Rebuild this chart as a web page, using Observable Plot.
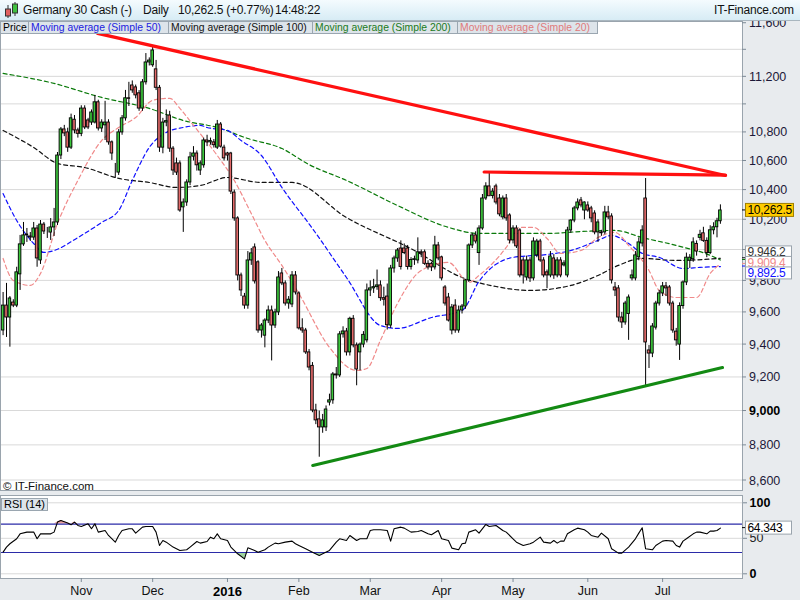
<!DOCTYPE html>
<html>
<head>
<meta charset="utf-8">
<script src="https://cdn.jsdelivr.net/npm/d3@7"></script>
<script src="https://cdn.jsdelivr.net/npm/@observablehq/plot@0.6"></script>
<style>
  html, body { margin:0; padding:0; }
  body { width:800px; height:600px; overflow:hidden; position:relative; background:#e8ebee; font-family:"Liberation Sans", Arial, sans-serif; color:#000; }
  #titlebar { position:absolute; left:0; top:0; width:800px; height:21px; background:linear-gradient(#f4fbfe,#d7ecf5); border-bottom:1px solid #a9b6bf; box-sizing:border-box; z-index:3; }
  #titlebar span { position:absolute; top:3px; font-size:12px; letter-spacing:-0.2px; line-height:14px; white-space:nowrap; color:#111; }
  #legend div { position:absolute; top:21px; height:13px; box-sizing:border-box; border:1px solid #9aa6b0; background:#dde4ea; font-size:10.4px; line-height:11px; padding-left:2px; white-space:nowrap; overflow:hidden; z-index:3; }
  #main { position:absolute; left:0; top:20px; z-index:1; }
  #rsi { position:absolute; left:0; top:493px; z-index:1; }
  #copy { position:absolute; left:3px; top:480px; font-size:11.5px; z-index:2; color:#111; }
  #rsilabel { position:absolute; left:1px; top:498px; height:13px; padding:0 2px; box-sizing:border-box; border:1px solid #9aa6b0; background:#dde4ea; font-size:11px; line-height:11px; z-index:2; }
</style>
</head>
<body>
<div id="titlebar">
  <svg width="18" height="18" style="position:absolute;left:3px;top:1px">
    <line x1="5" y1="4" x2="5" y2="17" stroke="#333"/><rect x="2.5" y="8" width="5" height="7" fill="#e06060" stroke="#333"/>
    <line x1="12" y1="1" x2="12" y2="15" stroke="#333"/><rect x="9.5" y="3" width="5" height="9" fill="#40c040" stroke="#333"/>
  </svg>
  <span style="left:23px">Germany 30 Cash (-)</span>
  <span style="left:143px">Daily</span>
  <span style="left:178px">10,262.5 (+0.77%)</span>
  <span style="left:275px">14:48:22</span>
  <span style="left:714px">IT-Finance.com</span>
</div>
<div id="legend">
  <div style="left:0px;width:29px;color:#000">Price</div>
  <div style="left:28px;width:141px;color:#2020e0">Moving average (Simple 50)</div>
  <div style="left:168px;width:145px;color:#111">Moving average (Simple 100)</div>
  <div style="left:312px;width:146px;color:#1a7a1a">Moving average (Simple 200)</div>
  <div style="left:457px;width:141px;color:#e07a7a">Moving average (Simple 20)</div>
</div>
<div id="main"></div>
<div id="copy">© IT-Finance.com</div>
<div id="rsilabel">RSI (14)</div>
<div id="rsi"></div>
<script>
// ---- Daily candles (Sep 30 2015 .. Jul 26 2016), index = trading day ----
const opens = [9487,9643,9568,9662,9643,9842,10037,10096,10089,10082,10142,9932,10168,10115,10115,10149,10182,10638,10821,10800,
10693,10890,10814,10790,10970,10885,10870,10870,11015,10828,10850,10870,10730,10520,10520,10800,10900,11044,11137,11123,
11080,10970,11160,11306,11285,11255,11120,10693,10870,10920,10686,10583,10583,10283,10316,10452,10630,10652,10534,10570,
10743,10730,10730,10693,10856,10693,10652,10652,10383,10209,9835,9700,9643,9932,10017,9920,9487,9455,9549,9612,
9518,9600,9848,9784,9656,9650,9835,9720,9500,9487,9352,9270,9003,8951,8904,8904,9050,9063,9218,9212,
9463,9481,9352,9560,9395,9352,9400,9426,9739,9752,9760,9771,9690,9700,9518,9880,9945,10010,10010,10010,
9890,9935,9932,9985,9985,9910,9910,9887,10030,9952,9758,9694,9487,9643,9487,9612,9637,9803,10030,10096,
9980,10142,10343,10425,10360,10425,10343,10216,10343,10229,10063,10142,10129,9932,9822,9932,9816,9965,10056,9932,
9855,9835,9945,9835,9932,9900,9835,10129,10195,10276,10330,10262,10296,10276,10242,10116,10116,10116,10249,10222,
9758,9752,9568,9537,9590,9816,9816,9952,10043,10343,9364,9345,9505,9656,9720,9765,9758,9656,9480,9400,
9640,9790,9930,9940,10040,10080,10110,10060,9980,10130,10150,10190];
const highs = [9726,9784,9700,9680,9888,10096,10182,10142,10115,10182,10162,10195,10182,10149,10208,10276,10659,10835,10850,10830,
10930,10920,10830,10990,10990,10900,10960,11065,11030,10890,11022,10890,10740,10583,10820,10920,11101,11160,11170,11140,
11100,11180,11372,11340,11430,11321,11137,10900,10960,10950,10700,10620,10600,10340,10470,10660,10700,10670,10600,10760,
10780,10760,10750,10885,10870,10710,10660,10660,10400,10220,9850,9720,9990,10010,10040,9930,9530,9560,9640,9640,
9620,9860,9880,9800,9700,9860,9860,9730,9560,9500,9370,9290,9040,9000,8980,9030,9100,9230,9260,9480,
9510,9500,9570,9580,9410,9410,9480,9780,9800,9810,9870,9800,9760,9780,9900,9960,10010,10060,10040,10030,
9950,9960,10080,10000,10000,9930,9920,10090,10050,9960,9770,9720,9650,9680,9640,9650,9810,10040,10110,10120,
10160,10370,10450,10520,10410,10440,10370,10360,10370,10240,10160,10160,10140,9950,9960,9950,10080,10070,10070,9950,
9870,9990,9970,9950,9950,9930,10150,10200,10290,10340,10350,10320,10320,10290,10260,10200,10130,10290,10290,10240,
9790,9770,9600,9670,9710,9870,9990,10080,10160,10479,9394,9530,9670,9740,9790,9790,9770,9670,9500,9660,
9800,9980,9970,10080,10060,10130,10150,10080,10160,10180,10210,10300];
const lows = [9455,9444,9384,9630,9630,9739,10024,10050,10056,10063,9888,9906,10102,10076,10063,10089,10162,10610,10770,10660,
10680,10790,10760,10770,10820,10820,10850,10860,10810,10800,10743,10710,10604,10480,10500,10780,10880,10985,11080,11040,
10950,10950,11140,11280,11270,11100,10660,10650,10840,10660,10500,10500,10250,10116,10290,10430,10600,10530,10500,10550,
10700,10710,10690,10680,10690,10600,10600,10370,10190,9800,9700,9620,9620,9900,9780,9470,9440,9380,9530,9300,
9500,9580,9770,9640,9620,9630,9710,9490,9470,9340,9240,8990,8920,8732,8870,8880,9030,9040,9190,9200,
9440,9330,9330,9380,9150,9240,9380,9410,9700,9720,9740,9670,9640,9490,9500,9850,9920,9870,9970,9870,
9870,9900,9910,9950,9900,9870,9860,9870,9930,9800,9640,9540,9460,9470,9470,9590,9620,9790,10010,10040,
9900,10130,10330,10380,10340,10300,10220,10200,10190,10040,10040,10010,9820,9780,9800,9790,9800,9950,9920,9820,
9750,9820,9810,9820,9820,9890,9820,10110,10180,10260,10280,10200,10250,10180,10100,10050,10090,10100,10200,9780,
9700,9540,9500,9520,9426,9800,9800,9930,10020,9151,9254,9320,9490,9640,9700,9700,9640,9470,9390,9303,
9620,9770,9880,9920,9960,10060,10050,9950,9970,10100,10080,10170];
const closes = [9643,9568,9688,9643,9855,10037,10096,10102,10082,10142,9945,10168,10122,10115,10149,10182,10638,10821,10793,10693,
10900,10814,10790,10970,10835,10835,10942,11015,10828,10870,10870,10730,10652,10520,10800,10900,11044,11040,11101,11065,
10970,11160,11306,11320,11395,11120,10693,10870,10880,10686,10534,10520,10262,10316,10452,10625,10652,10570,10583,10743,
10730,10740,10710,10856,10700,10618,10638,10390,10209,9835,9739,9643,9932,9978,9797,9487,9518,9549,9612,9518,
9600,9822,9784,9656,9680,9835,9726,9500,9487,9352,9260,9003,8945,8904,8945,9009,9063,9218,9212,9463,
9481,9352,9560,9395,9248,9400,9460,9739,9752,9760,9771,9690,9680,9520,9880,9945,9997,9890,9980,9890,
9935,9940,9985,9978,9910,9887,9887,10030,9945,9816,9656,9549,9631,9487,9612,9637,9803,10030,10096,10056,
10142,10343,10425,10358,10390,10316,10236,10343,10209,10063,10142,10024,9835,9835,9932,9816,10056,10056,9932,9835,
9835,9958,9835,9932,9835,9913,10129,10195,10276,10316,10296,10316,10262,10209,10116,10182,10110,10249,10216,9803,
9739,9568,9537,9656,9694,9835,9965,10050,10129,9413,9345,9512,9656,9720,9765,9752,9656,9487,9426,9640,
9790,9950,9950,10050,9990,10100,10060,9980,10130,10150,10190,10262.5];

// ---- Moving averages, sampled from the chart (index, value) ----
const ma20Idx = [0,3,8,11,16,22,29,34,39,44,49,52,56,63,68,73,77,82,87,96,104,107,111,116,123,131,137,140,148,152,156,160,164,170,175,180,184,190,193,198,204,208,211];
const ma20Val = [9945,9803,9771,9848,10175,10466,10743,10835,10906,11029,11044,10971,10850,10638,10466,10242,10063,9900,9720,9383,9242,9254,9426,9656,9867,9919,9790,9835,10017,10149,10149,10076,9978,9997,10082,10116,10030,9867,9739,9694,9694,9848,9909.4];
const ma50Idx = [0,4,9,12,15,22,29,34,38,43,48,53,58,60,66,70,76,82,91,101,111,116,126,135,140,150,160,167,175,179,184,188,193,200,205,211];
const ma50Val = [10376,10195,10043,9984,9997,10082,10182,10262,10466,10694,10800,10835,10850,10835,10814,10743,10638,10418,10142,9822,9518,9500,9568,9612,9797,9952,9971,9997,10063,10096,10043,9978,9952,9880,9887,9892.5];
const ma100Idx = [0,9,16,24,34,43,51,58,66,76,85,101,121,135,145,155,167,175,181,188,198,211];
const ma100Val = [10814,10694,10583,10555,10480,10452,10418,10431,10486,10452,10452,10215,9997,9822,9764,9739,9771,9835,9900,9945,9932,9946.2];
const ma200Idx = [0,14,29,43,53,63,72,82,90,101,116,131,140,150,160,170,180,188,198,208,211];
const ma200Val = [11225,11158,11050,10971,10885,10835,10757,10687,10575,10466,10296,10149,10109,10109,10109,10122,10129,10082,10030,9965,9935];

// ---- Trend lines drawn on the chart (index, price) ----
const resistIdx = [27.8, 212.5];  const resistVal = [11523, 10500];
const topIdx = [141.5, 212.5];    const topVal = [10524, 10503];
const supportIdx = [91.1, 211.6]; const supportVal = [8685, 9260];

// ---- RSI(14), sampled ----
const rsiIdx = [0,1,2,4,5,7,9,10,11,12,14,15,16,17,19,20,21,22,23,25,26,27,28,30,31,33,34,35,37,38,39,41,42,44,45,46,47,48,50,52,54,55,57,58,60,61,62,63,64,66,67,69,71,72,74,75,77,78,80,81,83,85,86,87,89,91,93,94,96,98,99,101,102,104,105,107,108,109,111,113,114,115,117,118,120,122,123,125,126,128,129,131,132,134,135,136,137,139,140,142,143,145,147,148,150,151,153,155,156,158,159,161,162,163,164,165,166,168,169,171,172,173,175,176,178,179,181,182,184,186,187,188,189,191,192,194,195,197,198,199,200,201,203,204,205,207,208,209,210,211];
const rsiVal = [30.5,37.6,42.3,49.3,56.3,58.7,58.7,49.3,56.3,56.3,56.3,58.7,72.8,75.1,71.4,69.0,72.8,68.1,66.7,70.4,63.4,70.4,58.7,61.0,54.0,44.6,54.0,61.0,63.4,63.4,57.3,65.7,66.7,66.7,58.7,39.9,46.9,44.6,37.6,32.9,33.8,37.6,45.5,43.2,45.5,51.6,49.3,56.3,49.3,46.9,37.6,28.2,21.1,36.6,32.9,30.5,33.8,37.6,43.2,42.3,44.6,46.0,42.3,39.9,35.2,30.5,25.8,28.2,32.9,44.6,49.3,46.9,54.0,46.9,49.3,49.3,61.0,62.0,62.0,61.0,46.0,63.4,65.7,64.3,58.7,59.6,61.0,56.3,54.9,61.0,49.3,46.9,36.2,33.8,42.3,43.2,58.7,62.0,57.3,69.5,66.7,68.1,61.0,58.7,49.3,44.6,39.9,42.3,44.6,51.6,44.6,43.2,46.9,43.2,46.0,46.0,56.3,62.0,64.3,62.0,58.7,54.0,51.6,57.3,49.3,35.2,29.1,29.1,37.6,49.3,57.3,64.8,35.2,33.8,39.9,46.0,46.9,46.0,39.9,37.6,46.0,49.3,56.3,58.7,58.7,56.3,60.1,60.1,61.0,64.343];

// ---- Axis ticks ----
const priceTicks = [8600,8800,9000,9200,9400,9600,9800,10000,10200,10400,10600,10800,11000,11200,11400,11600];
const unlabeled = [10000, 11000, 11400];   // 10,000 sits under the value boxes
const boldTicks = [9000];
const monthIdx = [23,44,66,87,108,129,150,172,194];
const monthLabels = ["Nov","Dec","2016","Feb","Mar","Apr","May","Jun","Jul"];
const rsiTicks = [0,50,100];
const lastPrice = 10262.5, lastRsi = 64.343;

// ---- build tables ----
const candles = closes.map((c, i) => ({i, o: opens[i], h: highs[i], l: lows[i], c}));
const pairs = (a, b) => a.map((x, k) => ({i: x, v: b[k]}));
const ma20 = pairs(ma20Idx, ma20Val), ma50 = pairs(ma50Idx, ma50Val),
      ma100 = pairs(ma100Idx, ma100Val), ma200 = pairs(ma200Idx, ma200Val);
const resist = pairs(resistIdx, resistVal), topLine = pairs(topIdx, topVal), support = pairs(supportIdx, supportVal);
const rsi = pairs(rsiIdx, rsiVal);

const fmt = d3.format(",");
const FONT = "Liberation Sans, Arial, sans-serif";
const X = {domain: [-0.765, 217.5], range: [0, 742], axis: null};
const dash = "4,3";
const GREEN = "#3cc83c", RED = "#e36a6a";
const AXIS = "#7d8a96";

const main = Plot.plot({
  width: 800, height: 473,
  marginLeft: 0, marginRight: 58, marginTop: 1, marginBottom: 3,
  x: X,
  y: {type: "log", domain: [8600, 11400], range: [460, 29.3], axis: null},
  style: {background: "transparent", fontFamily: FONT, fontSize: "12px", overflow: "visible"},
  marks: [
    Plot.frame({fill: "white"}),
    Plot.line(ma200, {x: "i", y: "v", stroke: "#0a7a0a", strokeWidth: 1.2, strokeDasharray: dash, curve: "monotone-x"}),
    Plot.line(ma100, {x: "i", y: "v", stroke: "#111", strokeWidth: 1.2, strokeDasharray: dash, curve: "monotone-x"}),
    Plot.line(ma50, {x: "i", y: "v", stroke: "#1010ff", strokeWidth: 1.2, strokeDasharray: dash, curve: "monotone-x"}),
    Plot.line(ma20, {x: "i", y: "v", stroke: "#f08a8a", strokeWidth: 1.2, strokeDasharray: dash, curve: "monotone-x"}),
    Plot.ruleX(candles, {x: "i", y1: "l", y2: "h", stroke: "#000", strokeWidth: 1}),
    Plot.rect(candles, {x1: d => d.i - 0.38, x2: d => d.i + 0.38, y1: "o", y2: "c",
      fill: d => d.c >= d.o ? GREEN : RED, stroke: "#000", strokeWidth: 0.9}),
    Plot.line(resist, {x: "i", y: "v", stroke: "#ff1010", strokeWidth: 3.2}),
    Plot.line(topLine, {x: "i", y: "v", stroke: "#ff1010", strokeWidth: 3.2}),
    Plot.line(support, {x: "i", y: "v", stroke: "#138a13", strokeWidth: 3.2}),
    Plot.frame({stroke: "#9aa4ad"})
  ]
});
document.getElementById("main").appendChild(main);

const ys = main.scale("y");
const svgM = d3.select(main);
// gridlines (behind the marks), ticks and labels of the price axis, placed with the y scale
const frameNode = main.querySelector('[aria-label="frame"]');
const grid = d3.create("svg:g").attr("aria-label", "grid");
priceTicks.filter(d => d < 11600).forEach(v => {
  grid.append("line").attr("x1", 0).attr("x2", 742).attr("y1", ys.apply(v)).attr("y2", ys.apply(v)).attr("stroke", "#d9d9d9");
});
frameNode.after(grid.node());
const axisG = svgM.append("g").attr("font-family", FONT).attr("font-size", 12.5).attr("text-anchor", "start");
priceTicks.forEach(v => {
  const y = ys.apply(v);
  axisG.append("line").attr("x1", 742).attr("x2", 746).attr("y1", y).attr("y2", y).attr("stroke", AXIS);
  if (!unlabeled.includes(v)) {
    axisG.append("text").attr("x", 749).attr("y", y).attr("dy", "0.36em")
      .attr("fill", boldTicks.includes(v) ? "#000" : "#1c1838")
      .attr("font-weight", boldTicks.includes(v) ? "bold" : null).text(fmt(v));
  }
});

function box(svg, yc, txt, bg, col, border, w, h) {
  const g = svg.append("g").attr("text-anchor", "start");
  g.append("rect").attr("x", 745.5).attr("y", yc - h / 2).attr("width", w).attr("height", h)
    .attr("fill", bg).attr("stroke", border);
  g.append("text").attr("x", 747.5).attr("y", yc).attr("dy", "0.35em").attr("font-size", 12)
    .attr("letter-spacing", "-0.3px").attr("font-family", FONT).attr("fill", col).text(txt);
}
[[ma200Val.at(-1), "#0a7a0a"], [ma100Val.at(-1), "#111"], [ma20Val.at(-1), "#f08a8a"], [ma50Val.at(-1), "#1010ff"], [lastPrice, "#000"]]
  .forEach(([v, c]) => svgM.append("line").attr("x1", 742).attr("x2", 746).attr("y1", ys.apply(v)).attr("y2", ys.apply(v)).attr("stroke", c));
const stack = [[ma100Val.at(-1), "#333", "9,946.2"], [ma20Val.at(-1), "#f08a8a", "9,909.4"], [ma50Val.at(-1), "#1010ff", "9,892.5"]];
const mid = d3.mean(stack, s => ys.apply(s[0]));
stack.forEach((s, k) => box(svgM, mid + (k - 1) * 10.5, s[2], "white", s[1], "#9aa4ad", 46, 12));
box(svgM, ys.apply(lastPrice), d3.format(",.1f")(lastPrice), "#ffcc00", "#000", "#a08000", 48, 13);

// ---- RSI panel ----
const rsiPlot = Plot.plot({
  width: 800, height: 107,
  marginLeft: 0, marginRight: 58, marginTop: 2, marginBottom: 22,
  x: X,
  y: {domain: [0, 100], range: [80.3, 9.3], axis: null},
  style: {background: "transparent", fontFamily: FONT, fontSize: "12px", overflow: "visible"},
  marks: [
    Plot.frame({fill: "white"}),
    Plot.ruleY(rsiTicks, {stroke: "#d9d9d9"}),
    Plot.areaY(rsi, {x: "i", y1: 70, y2: d => Math.max(d.v, 70), fill: "#e9a0a0"}),
    Plot.areaY(rsi, {x: "i", y1: 30, y2: d => Math.min(d.v, 30), fill: "#9fd49f"}),
    Plot.ruleY([30, 70], {stroke: "#2b2ba8", strokeWidth: 1.2}),
    Plot.line(rsi, {x: "i", y: "v", stroke: "#000", strokeWidth: 1.1}),
    Plot.frame({stroke: "#9aa4ad"}),
    Plot.axisY([50], {anchor: "right", label: null, tickSize: 4, tickPadding: 3, stroke: AXIS, fill: "#222", fontSize: 12.5}),
    Plot.axisY([0, 100], {anchor: "right", label: null, tickSize: 4, tickPadding: 3, stroke: AXIS, fill: "#000", fontSize: 12.5, fontWeight: "bold"}),
    Plot.axisX(monthIdx.filter((d, k) => monthLabels[k] !== "2016"), {anchor: "bottom", label: null, tickSize: 4, tickPadding: 4, stroke: AXIS,
      tickFormat: d => monthLabels[monthIdx.indexOf(d)], fill: "#111", fontSize: 12.5}),
    Plot.axisX([monthIdx[monthLabels.indexOf("2016")]], {anchor: "bottom", label: null, tickSize: 4, tickPadding: 4, stroke: AXIS,
      tickFormat: () => "2016", fill: "#000", fontSize: 13, fontWeight: "bold"})
  ]
});
document.getElementById("rsi").appendChild(rsiPlot);
const yr = rsiPlot.scale("y");
const svgR = d3.select(rsiPlot);
svgR.append("line").attr("x1", 742).attr("x2", 746).attr("y1", yr.apply(lastRsi)).attr("y2", yr.apply(lastRsi)).attr("stroke", "#000");
box(svgR, yr.apply(lastRsi), String(lastRsi), "white", "#000", "#9aa4ad", 46, 13);
</script>
</body>
</html>
